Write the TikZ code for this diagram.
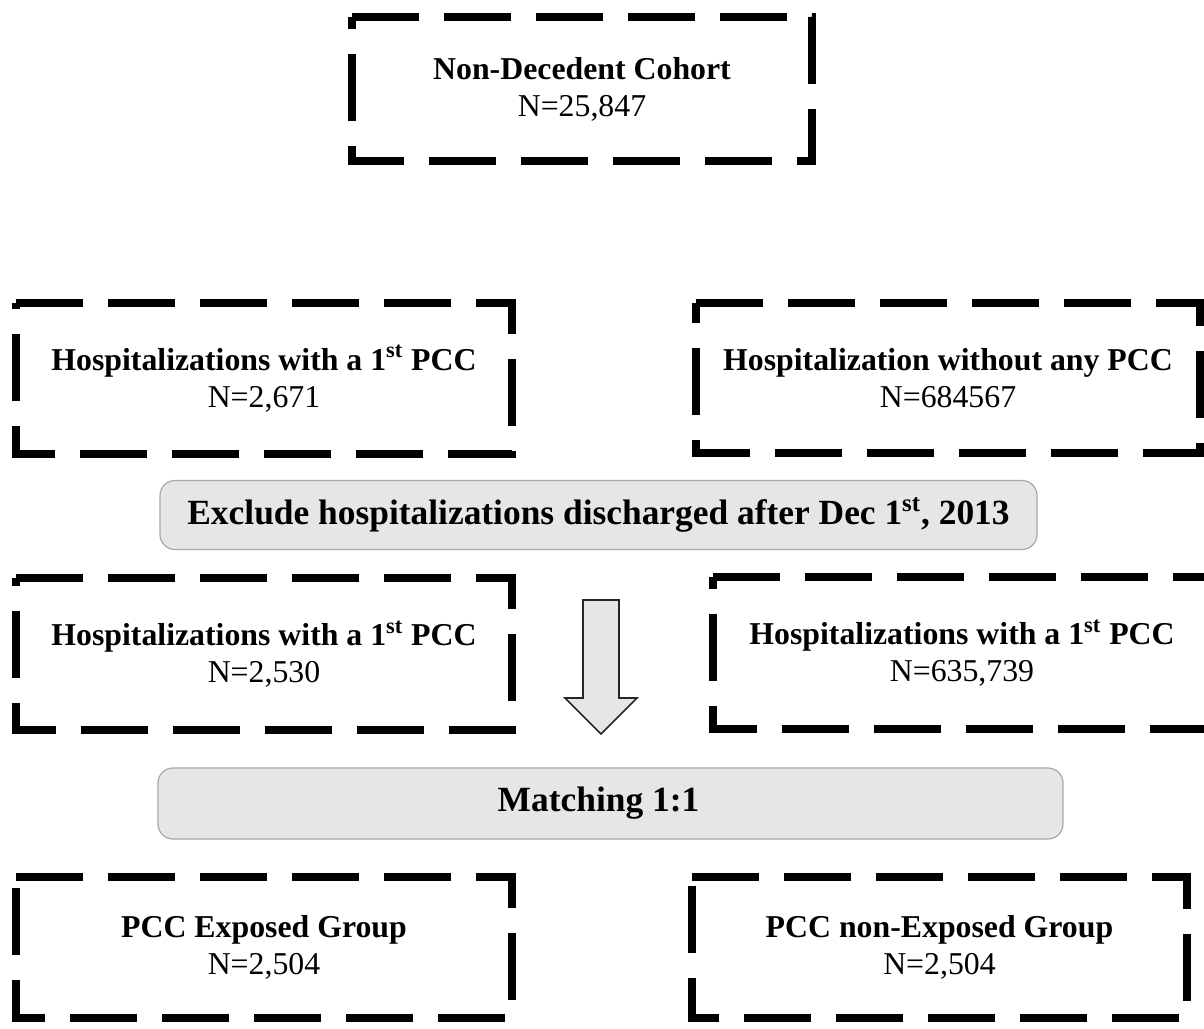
\documentclass[tikz,border=0pt]{standalone}
\usepackage{fontspec}
\setmainfont{Liberation Serif}
\definecolor{boxgray}{HTML}{E6E6E6}
\definecolor{edgegray}{HTML}{A8A8A8}
\definecolor{arrowedge}{HTML}{262626}
\begin{document}
\begin{tikzpicture}[x=0.5pt,y=-0.5pt,
  cohort/.style={rectangle, inner sep=0pt, outer sep=0pt, align=center,
    font=\fontsize{15.9}{18.5}\selectfont},
  dashframe/.style={line width=3.75pt, dash pattern=on 33.5pt off 12.5pt,
    line join=miter, black},
  stepbox/.style={rectangle, rounded corners=7.5pt, fill=boxgray, draw=edgegray,
    line width=0.6pt, inner sep=0pt, font=\fontsize{17.7}{20}\selectfont\bfseries},
  blockarrow/.style={fill=boxgray, draw=arrowedge, line width=0.8pt, line join=miter},
]
\useasboundingbox (0,0) rectangle (1204,1028);
\clip (0,0) rectangle (1204,1028);

% cohort boxes
\node[cohort, minimum width=230pt, minimum height=72pt] (cohort) at (582,89)
  {\textbf{Non-Decedent Cohort}\\N=25,847};
\node[cohort, minimum width=248pt, minimum height=75.5pt] (firstpcc) at (264,378.5)
  {\textbf{Hospitalizations with a 1\textsuperscript{st} PCC}\\N=2,671};
\node[cohort, minimum width=252pt, minimum height=75pt] (nopcc) at (948,378)
  {\textbf{Hospitalization without any PCC}\\N=684567};
\node[cohort, minimum width=248pt, minimum height=76pt] (firstpccb) at (264,654)
  {\textbf{Hospitalizations with a 1\textsuperscript{st} PCC}\\N=2,530};
\node[cohort, minimum width=249pt, minimum height=76pt] (firstpccc) at (962,653)
  {\textbf{Hospitalizations with a 1\textsuperscript{st} PCC}\\N=635,739};
\node[cohort, minimum width=248pt, minimum height=70.5pt] (exposed) at (264,947.5)
  {\textbf{PCC Exposed Group}\\N=2,504};
\node[cohort, minimum width=247.5pt, minimum height=70.5pt] (unexposed) at (939.5,947.5)
  {\textbf{PCC non-Exposed Group}\\N=2,504};

% dashed frames, traced clockwise from the top-left corner
\foreach \n in {cohort, firstpcc, nopcc, firstpccb, firstpccc, exposed, unexposed}
  \draw[dashframe] (\n.north west) -- (\n.north east) -- (\n.south east)
    -- (\n.south west) -- cycle;

% processing steps
\node[stepbox, minimum width=438.5pt, minimum height=34.5pt] (exclude) at (598.5,515)
  {Exclude hospitalizations discharged after Dec 1\textsuperscript{st}, 2013};
\node[stepbox, minimum width=452.5pt, minimum height=35.5pt] (matching) at (610.5,803.5)
  {Matching 1:1\hspace*{12pt}};

% block arrow
\draw[blockarrow] (583,600) -- (619,600) -- (619,698) -- (637,698) -- (601,734)
  -- (565,698) -- (583,698) -- cycle;
\end{tikzpicture}
\end{document}
